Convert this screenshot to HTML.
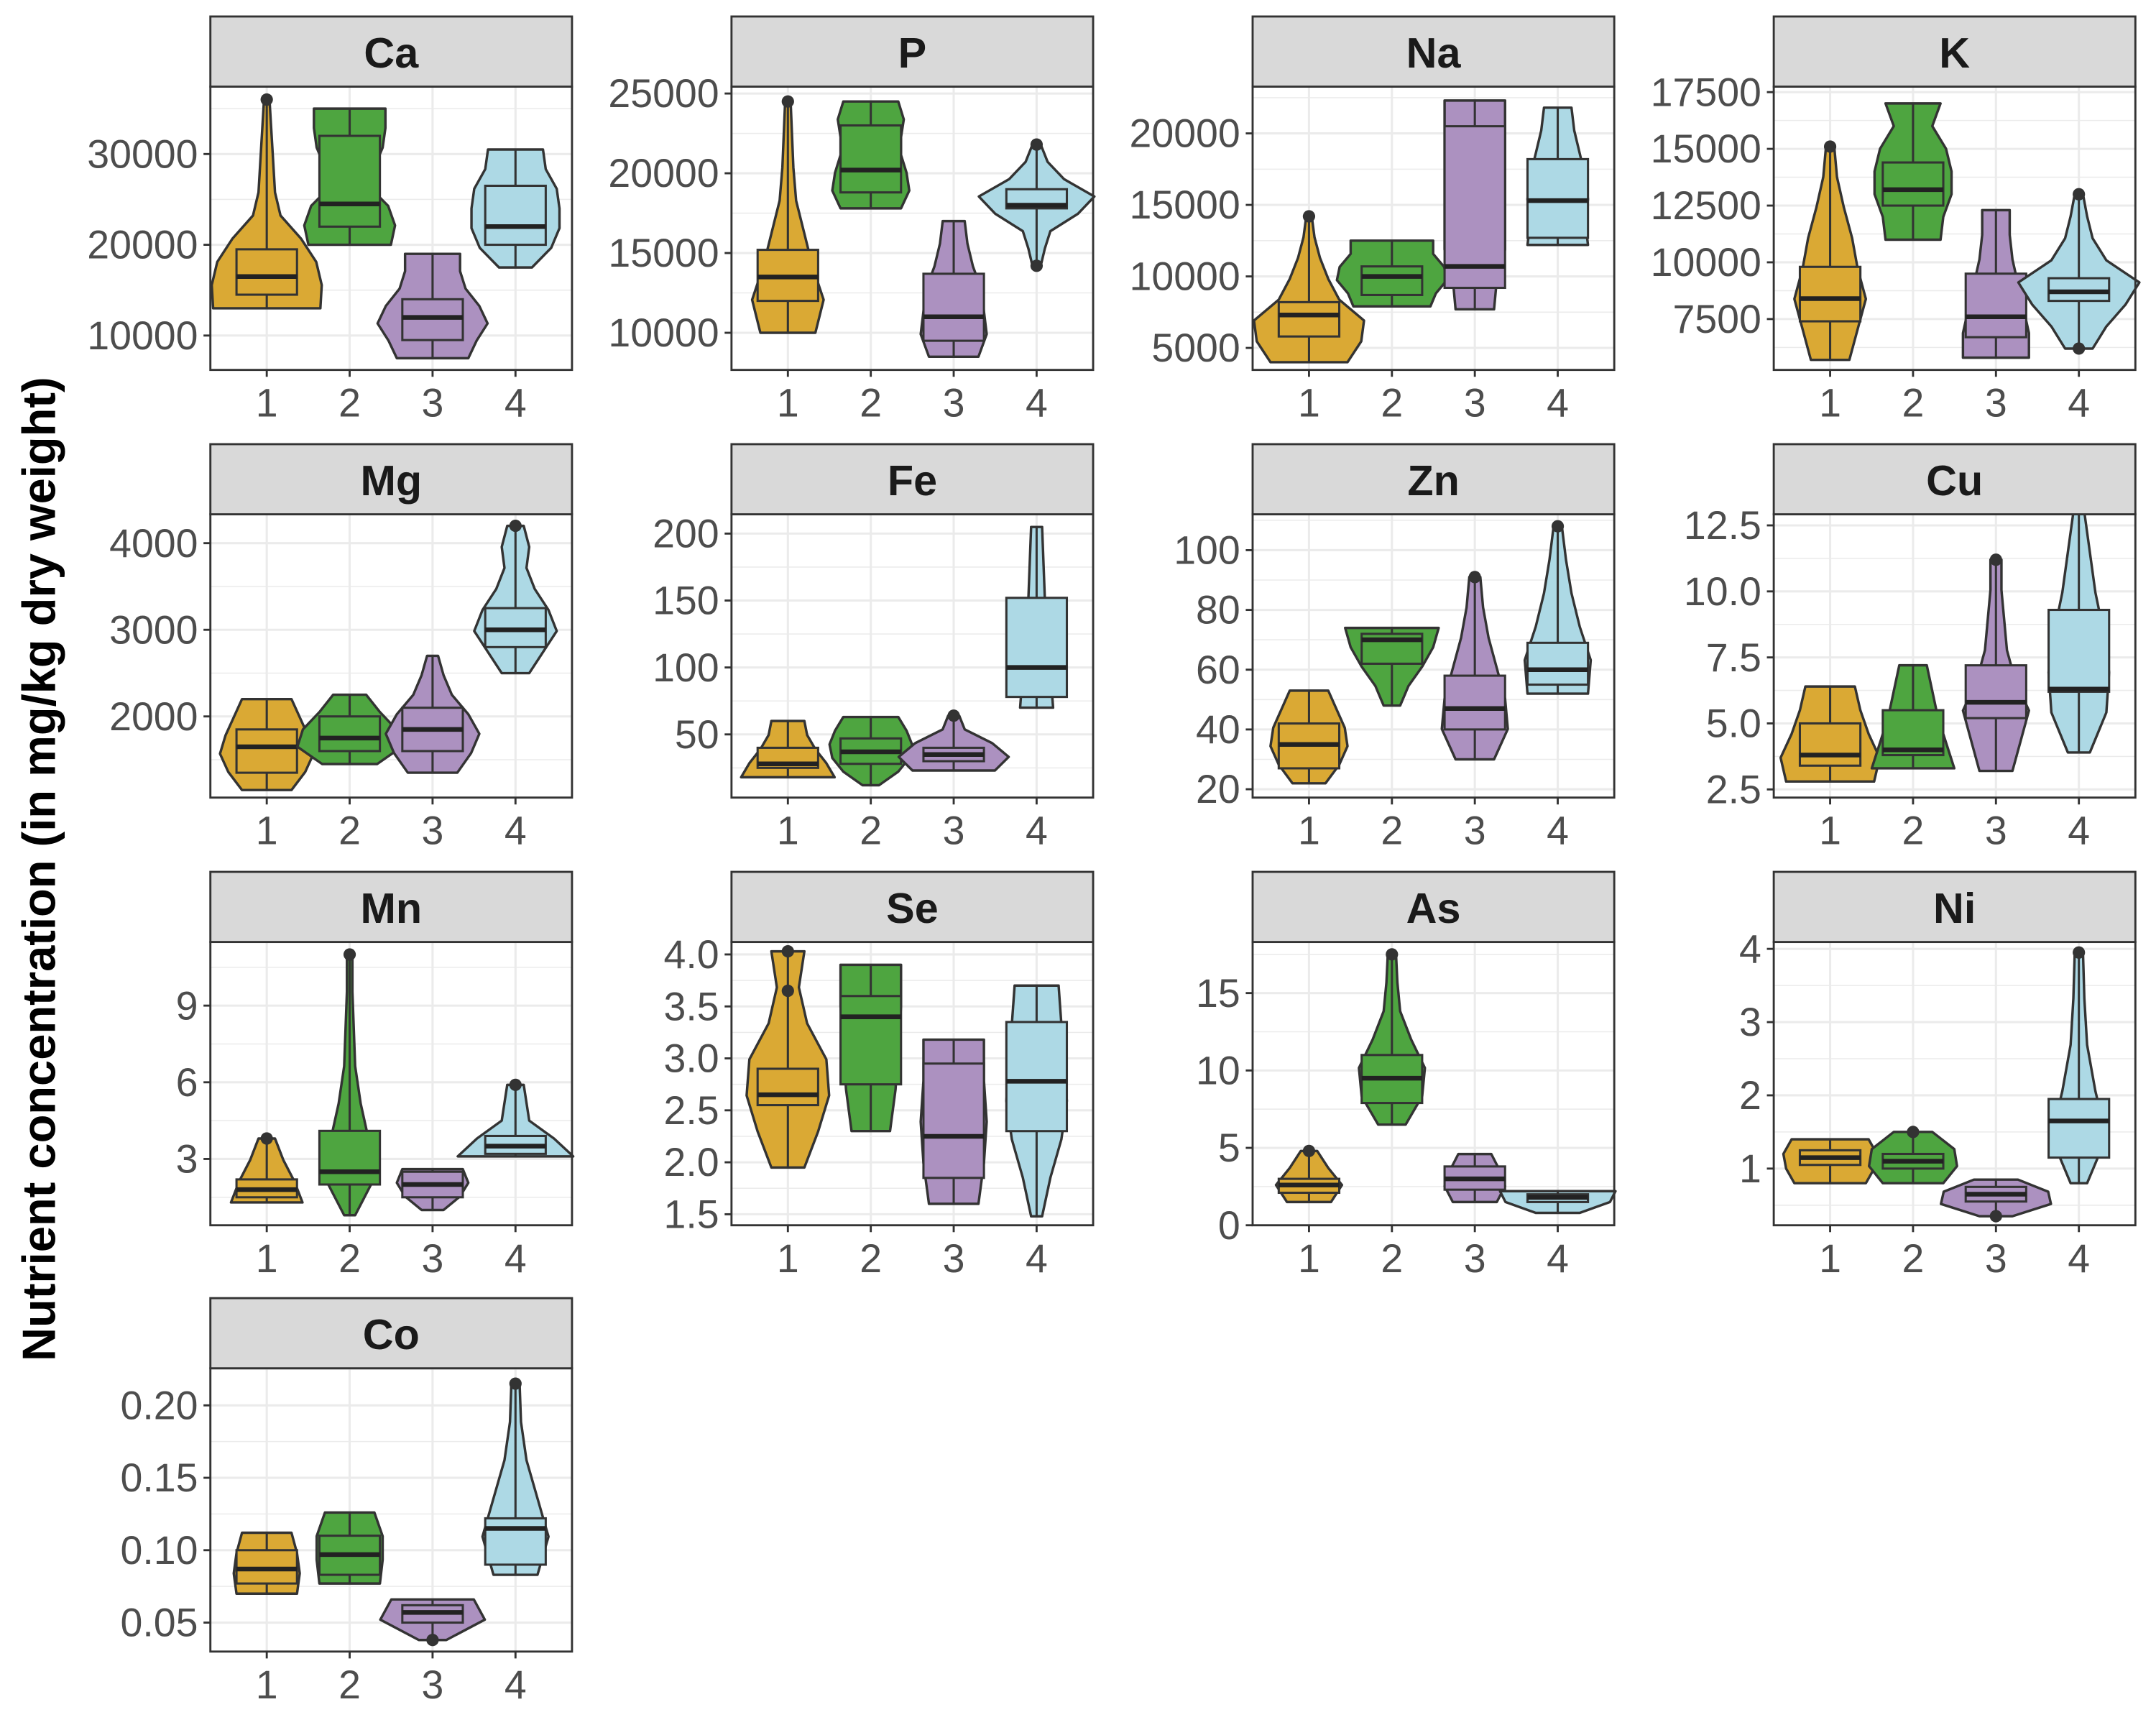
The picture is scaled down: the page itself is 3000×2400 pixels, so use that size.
<!DOCTYPE html>
<html><head><meta charset="utf-8"><style>
html,body{margin:0;padding:0;background:#fff}
svg{display:block}
text{font-family:"Liberation Sans",sans-serif}
</style></head><body>
<svg id="chart" xmlns="http://www.w3.org/2000/svg" width="3000" height="2400" viewBox="0 0 1568 1254.4" preserveAspectRatio="none">
<rect width="1568" height="1254.4" fill="#fff"/>
<text transform="translate(40,632) rotate(-90)" text-anchor="middle" font-size="34" font-weight="bold" fill="#000">Nutrient concentration (in mg/kg dry weight)</text>
</svg>
<script>
const panelNames = ["Ca","P","Na","K","Mg","Fe","Zn","Cu","Mn","Se","As","Ni","Co"];
const domains = [[6212,37424],[7672,25431],[3462,23269],[5258,17742],[1063,4333],[2.8,214.4],[17.2,112],[2.19,12.92],[0.405,11.49],[1.394,4.12],[0,18.3],[0.226,4.094],[0.030,0.2256]];
const ticks = [[10000,20000,30000],[10000,15000,20000,25000],[5000,10000,15000,20000],[7500,10000,12500,15000,17500],[2000,3000,4000],[50,100,150,200],[20,40,60,80,100],[2.5,5,7.5,10,12.5],[3,6,9],[1.5,2,2.5,3,3.5,4],[0,5,10,15],[1,2,3,4],[0.05,0.1,0.15,0.2]];
const tickDecimals = [0,0,0,0,0,0,0,1,0,1,0,0,2];
const categories = ["1","2","3","4"];
// each group: [min, max, q1, median, q3, density half-widths (bottom->top), outliers]
const groupsCa = [[13000,36000,14500,16500,19500,[39,40,36,25,10,6,5,4,3,2],[36000]],[20000,35000,22000,24500,32000,[30,33,28,14,18,24,26,26],[]],[7500,19000,9500,12000,14000,[26,32,40,34,24,20,20],[]],[17500,30500,20000,22000,26500,[12,26,32,32,30,22,20],[]]];
const groupsP = [[10000,24500,12000,13500,15200,[20,26,18,12,6,4,3,2],[24500]],[17800,24500,18800,20200,23000,[22,28,26,22,22,24,20],[]],[8500,17000,9500,11000,13700,[18,24,22,20,14,10,8],[]],[14200,21800,17800,18000,19000,[3,6,10,30,42,20,8,3],[14200,21800]]];
const groupsNa = [[4000,14200,5800,7300,8200,[28,38,40,22,14,8,4,2],[14200]],[7900,12500,8700,10000,10700,[28,32,40,38,30,30],[]],[7700,22300,9200,10700,20500,[14,16,22,22,22,22,22,22],[]],[12200,21800,12700,15300,18200,[22,20,22,20,16,12,10],[]]];
const groupsK = [[5700,15100,7400,8400,9800,[14,20,26,20,16,10,5,3],[15100]],[11000,17000,12500,13200,14400,[20,22,28,28,24,14,20],[]],[5800,12300,6700,7600,9500,[24,24,20,16,12,10,10],[]],[6200,13000,8300,8700,9300,[10,20,34,44,20,10,6,3],[6200,13000]]];
const groupsMg = [[1150,2200,1350,1650,1850,[18,28,34,30,24,18],[]],[1450,2250,1600,1750,2000,[20,38,34,22,12],[]],[1350,2700,1600,1850,2100,[18,28,34,26,14,8,4],[]],[2500,4200,2800,3000,3250,[10,20,30,24,14,8,10,6],[4200]]];
const groupsFe = [[18,60,25,28,40,[34,28,20,14,12],[]],[12,63,28,37,47,[6,20,28,30,26,20],[]],[23,64,30,35,40,[30,40,28,8,4],[64]],[70,205,78,100,152,[12,10,8,6,5,4],[]]];
const groupsZn = [[22,53,27,35,42,[12,22,28,26,20,14],[]],[48,74,62,70,72,[6,12,22,30,34],[]],[30,91,40,47,58,[14,24,22,16,10,6,4],[91]],[52,108,55,60,69,[22,24,16,10,6,3],[108]]];
const groupsCu = [[2.8,6.4,3.4,3.8,5.0,[32,36,28,22,18],[]],[3.3,7.2,3.8,4.0,5.5,[30,24,18,14,10],[]],[3.2,11.2,5.2,5.8,7.2,[12,18,24,14,8,6,4,4],[11.2]],[3.9,13,6.2,6.3,9.3,[8,20,22,18,12,8,4],[]]];
const groupsMn = [[1.3,3.8,1.5,1.8,2.2,[26,20,12,6],[3.8]],[0.8,11,2.0,2.5,4.1,[4,18,14,8,4,3,2,2],[11]],[1.0,2.6,1.5,2.0,2.5,[8,20,26,22],[]],[3.1,5.9,3.2,3.5,3.9,[42,28,10,8,6],[5.9]]];
const groupsSe = [[1.95,4.03,2.55,2.65,2.9,[12,22,30,28,14,8,12],[4.03,3.65]],[2.3,3.9,2.75,3.4,3.6,[14,18,20,22,22],[]],[1.6,3.18,1.85,2.25,2.95,[18,22,24,22,22],[]],[1.48,3.7,2.3,2.78,3.35,[4,10,18,22,20,18,16],[]]];
const groupsAs = [[1.5,4.8,2.1,2.6,3.0,[16,24,14,6],[4.8]],[6.5,17.5,7.9,9.5,11,[10,22,24,14,6,4,3],[17.5]],[1.5,4.6,2.3,3.0,3.8,[16,22,18,12],[]],[0.8,2.2,1.5,1.8,2.0,[16,38,42],[]]];
const groupsNi = [[0.8,1.4,1.05,1.15,1.25,[26,32,34,28],[]],[0.8,1.5,1.0,1.1,1.2,[22,32,30,14],[1.5]],[0.35,0.85,0.55,0.65,0.75,[12,40,38,16],[0.35]],[0.8,3.95,1.15,1.65,1.95,[6,20,12,6,4,3],[3.95]]];
const groupsCo = [[0.07,0.112,0.077,0.087,0.1,[22,24,22,18],[]],[0.077,0.126,0.083,0.097,0.11,[22,24,24,18],[]],[0.038,0.066,0.05,0.057,0.062,[10,38,30],[0.038]],[0.083,0.215,0.09,0.115,0.122,[16,24,16,8,4,3],[0.215]]];
const allGroups = [groupsCa,groupsP,groupsNa,groupsK,groupsMg,groupsFe,groupsZn,groupsCu,groupsMn,groupsSe,groupsAs,groupsNi,groupsCo];
const colors = ["#DAA934","#4EA540","#AC91C0","#ADD9E5"];

const svg = document.getElementById('chart');
const NS = "http://www.w3.org/2000/svg";
function mk(tag, attrs, parent){const e=document.createElementNS(NS,tag);for(const k in attrs)e.setAttribute(k,attrs[k]);(parent||svg).appendChild(e);return e;}
const colX=[153,532,911,1290], rowY=[12,323,634,944], PW=263, SH=51, PH=206;

panelNames.forEach((name,p)=>{
  const px=colX[p%4], sy=rowY[Math.floor(p/4)], py=sy+SH;
  const [lo,hi]=domains[p];
  const Y=v=>py+PH-(v-lo)/(hi-lo)*PH;
  const X=i=>px+41+i*60.3;
  const g=mk('g',{});
  
  
  mk('rect',{x:px,y:py,width:PW,height:PH,fill:'#fff'},g);
  const tk=ticks[p];
  const step=tk.length>1?tk[1]-tk[0]:1;
  for(let v=tk[0]-step;v<=hi+step;v+=step/2){
    if(v<lo||v>hi)continue;
    const major=tk.some(t=>Math.abs(t-v)<step*1e-6);
    mk('line',{x1:px,x2:px+PW,y1:Y(v),y2:Y(v),stroke:'#ebebeb','stroke-width':major?1.6:0.8},g);
  }
  categories.forEach((c,i)=>mk('line',{x1:X(i),x2:X(i),y1:py,y2:py+PH,stroke:'#ebebeb','stroke-width':1.6},g));
  tk.forEach(t=>{
    mk('line',{x1:px-5,x2:px,y1:Y(t),y2:Y(t),stroke:'#333','stroke-width':1.5},g);
    const tx=mk('text',{x:px-9,y:Y(t)+10,'text-anchor':'end','font-size':29,fill:'#4d4d4d'},g);
    
    
    tx.textContent=t.toFixed(tickDecimals[p]);
  });
  categories.forEach((c,i)=>{
    mk('line',{x1:X(i),x2:X(i),y1:py+PH,y2:py+PH+5,stroke:'#333','stroke-width':1.5},g);
    const tx=mk('text',{x:X(i),y:py+PH+34,'text-anchor':'middle','font-size':29,fill:'#4d4d4d'},g);
    
    
    tx.textContent=c;
  });
  allGroups[p].forEach((gr,i)=>{
    const [mn,mx,q1,md,q3,prof,outs]=gr;
    const cx=X(i), n=prof.length;
    let right=[],left=[];
    prof.forEach((w,k)=>{const yy=Y(mn+(mx-mn)*k/(n-1));right.push([cx+w,yy]);left.push([cx-w,yy]);});
    const pts=right.concat(left.reverse());
    const vio=mk('path',{d:'M'+pts.map(q=>q[0].toFixed(1)+','+q[1].toFixed(1)).join('L')+'Z',fill:colors[i],stroke:'#333','stroke-width':1.8,'stroke-linejoin':'round'},g);
    
    
    mk('line',{x1:cx,x2:cx,y1:Y(mx),y2:Y(q3),stroke:'#333','stroke-width':1.6},g);
    mk('line',{x1:cx,x2:cx,y1:Y(q1),y2:Y(mn),stroke:'#333','stroke-width':1.6},g);
    const bx=mk('rect',{x:cx-22,y:Y(q3),width:44,height:Math.max(1,Y(q1)-Y(q3)),fill:colors[i],stroke:'#333','stroke-width':1.6},g);
    
    
    mk('line',{x1:cx-22,x2:cx+22,y1:Y(md),y2:Y(md),stroke:'#222','stroke-width':3.4},g);
    outs.forEach(o=>{
      const d=mk('circle',{cx:cx,cy:Y(o),r:4.5,fill:'#333'},g);
      
      
    });
  });
  mk('rect',{x:px,y:py,width:PW,height:PH,fill:'none',stroke:'#333','stroke-width':1.5},g);
  const st=mk('rect',{x:px,y:sy,width:PW,height:SH,fill:'#d9d9d9',stroke:'#333','stroke-width':1.5},g);
  
  
  const lab=mk('text',{x:px+PW/2,y:sy+37,'text-anchor':'middle','font-size':31,'font-weight':'bold',fill:'#1a1a1a'},g);
  
  
  lab.textContent=name;
});
</script>
</body></html>
